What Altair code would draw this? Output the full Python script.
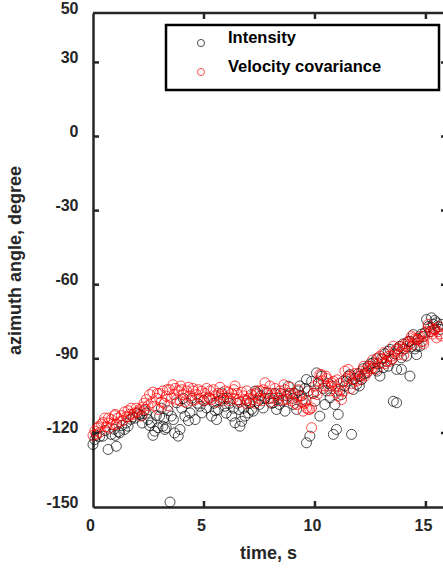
import altair as alt
import pandas as pd

series_names = ["Intensity", "Velocity covariance"]
series_colors = ["#000000", "#ff0000"]
y_ticks = [50, 30, 0, -30, -60, -90, -120, -150]
x_ticks = [0, 5, 10, 15]

int_t = [0.00, 0.08, 0.15, 0.30, 0.45, 0.55, 0.68, 0.82, 0.95, 1.05, 1.15, 1.20, 1.30, 1.42, 1.50, 1.58,
         1.70, 1.80, 1.90, 2.00, 2.10, 2.20, 2.30, 2.40, 2.48, 2.55, 2.63, 2.70, 2.78, 2.85, 2.93, 3.00,
         3.08, 3.15, 3.24, 3.30, 3.38, 3.47, 3.53, 3.62, 3.68, 3.77, 3.84, 3.92, 4.00, 4.07, 4.14, 4.25,
         4.37, 4.45, 4.60, 4.70, 4.82, 4.90, 5.00, 5.12, 5.25, 5.34, 5.45, 5.57, 5.64, 5.72, 5.80, 5.88,
         5.95, 6.05, 6.15, 6.25, 6.32, 6.40, 6.50, 6.62, 6.70, 6.78, 6.85, 6.93, 7.00, 7.07, 7.14, 7.22,
         7.30, 7.37, 7.45, 7.55, 7.67, 7.75, 7.85, 7.97, 8.05, 8.12, 8.20, 8.27, 8.35, 8.45, 8.55, 8.65,
         8.72, 8.80, 8.90, 9.02, 9.10, 9.17, 9.25, 9.32, 9.40, 9.47, 9.55, 9.62, 9.62, 9.70, 9.77, 9.85,
         9.93, 10.00, 10.07, 10.15, 10.22, 10.30, 10.38, 10.45, 10.52, 10.60, 10.68, 10.75, 10.83, 10.90,
         10.97, 11.05, 11.12, 11.20, 11.28, 11.35, 11.42, 11.50, 11.58, 11.65, 11.73, 11.80, 11.88, 11.95,
         12.03, 12.10, 12.18, 12.25, 12.33, 12.40, 12.50, 12.62, 12.70, 12.78, 12.85, 12.93, 13.00, 13.08,
         13.15, 13.23, 13.30, 13.38, 13.45, 13.53, 13.60, 13.68, 13.68, 13.75, 13.82, 13.90, 13.90, 13.97,
         14.05, 14.13, 14.20, 14.28, 14.28, 14.35, 14.43, 14.50, 14.58, 14.65, 14.73, 14.80, 14.88, 14.95,
         15.03, 15.10, 15.18, 15.25, 15.33, 15.40, 15.48, 15.55, 15.63, 15.70,
         4.30, 5.50, 6.00, 6.58, 7.50, 8.40, 9.00, 3.20, 2.22, 1.00, 12.00, 12.80, 13.30, 14.60, 15.40]
int_v = [-124.7, -122.7, -121.0, -121.5, -121.3, -119.0, -126.7, -120.6, -118.5, -125.4, -119.5, -120.0,
         -117.0, -118.6, -116.0, -117.3, -114.5, -113.5, -114.0, -112.0, -112.5, -113.0, -111.0, -112.0,
         -114.6, -117.0, -115.9, -121.0, -119.3, -113.0, -117.9, -113.2, -110.0, -117.3, -118.6, -117.9,
         -111.0, -148.0, -113.2, -114.6, -120.0, -107.8, -121.3, -118.6, -110.0, -106.0, -113.2, -108.0,
         -111.9, -106.0, -114.6, -108.0, -109.2, -111.9, -107.0, -109.9, -106.0, -113.2, -108.0, -114.6,
         -110.5, -107.0, -103.8, -106.0, -109.2, -106.0, -108.0, -113.2, -110.0, -115.9, -108.0, -117.3,
         -115.3, -110.0, -113.2, -107.0, -111.9, -108.0, -110.5, -111.2, -103.1, -103.8, -107.0, -105.0,
         -109.9, -106.0, -104.0, -106.0, -108.0, -107.8, -104.0, -110.5, -106.0, -104.0, -107.0, -111.2,
         -105.0, -101.1, -104.0, -108.5, -104.0, -110.5, -103.0, -101.0, -105.0, -106.5, -102.0, -98.4,
         -124.0, -103.0, -121.3, -99.1, -104.0, -107.2, -95.7, -100.0, -113.2, -97.0, -102.0, -108.5,
         -103.0, -100.0, -105.8, -101.0, -120.6, -108.5, -118.6, -112.5, -103.0, -104.5, -99.0, -101.0,
         -99.1, -97.0, -96.4, -120.6, -102.4, -98.0, -100.4, -96.0, -97.0, -98.4, -94.0, -96.0, -95.7,
         -93.0, -92.0, -91.6, -94.0, -90.0, -92.0, -97.0, -90.0, -93.6, -88.0, -91.0, -87.0, -86.2, -90.3,
         -107.2, -88.0, -94.3, -107.8, -86.0, -85.0, -89.6, -94.3, -84.0, -86.0, -88.9, -83.0, -82.9,
         -97.0, -85.0, -80.2, -86.0, -88.3, -82.0, -84.9, -80.0, -81.0, -79.5, -74.1, -77.0, -79.0, -73.4,
         -76.0, -78.0, -75.4, -77.0, -78.1, -76.0,
         -115.0, -111.0, -112.0, -110.5, -108.5, -108.5, -106.0, -114.0, -116.0, -121.0, -101.0, -95.0,
         -93.0, -85.0, -74.5]

vel_t = [0.00, 0.08, 0.15, 0.22, 0.30, 0.38, 0.45, 0.53, 0.60, 0.68, 0.75, 0.82, 0.90, 0.98, 1.05, 1.12,
         1.20, 1.28, 1.35, 1.42, 1.50, 1.58, 1.65, 1.72, 1.80, 1.88, 1.95, 2.03, 2.10, 2.18, 2.25, 2.33,
         2.40, 2.48, 2.55, 2.63, 2.70, 2.78, 2.85, 2.93, 3.00, 3.08, 3.15, 3.22, 3.30, 3.38, 3.45, 3.53,
         3.60, 3.65, 3.70, 3.77, 3.85, 3.92, 4.00, 4.07, 4.14, 4.22, 4.30, 4.37, 4.45, 4.52, 4.60, 4.67,
         4.75, 4.82, 4.90, 4.97, 5.04, 5.12, 5.20, 5.27, 5.34, 5.42, 5.50, 5.57, 5.64, 5.72, 5.80, 5.88,
         5.95, 6.03, 6.10, 6.18, 6.25, 6.32, 6.40, 6.48, 6.55, 6.62, 6.70, 6.78, 6.85, 6.93, 7.00, 7.07,
         7.14, 7.22, 7.30, 7.37, 7.45, 7.52, 7.60, 7.67, 7.75, 7.82, 7.90, 7.97, 8.05, 8.12, 8.20, 8.27,
         8.35, 8.42, 8.50, 8.57, 8.65, 8.72, 8.80, 8.88, 8.95, 9.02, 9.10, 9.17, 9.25, 9.32, 9.40, 9.47,
         9.55, 9.62, 9.70, 9.77, 9.85, 9.85, 9.93, 10.00, 10.07, 10.15, 10.22, 10.30, 10.38, 10.45, 10.52,
         10.60, 10.68, 10.75, 10.83, 10.90, 10.97, 11.05, 11.05, 11.12, 11.20, 11.28, 11.35, 11.42, 11.50,
         11.58, 11.65, 11.73, 11.80, 11.88, 11.95, 12.03, 12.10, 12.18, 12.25, 12.33, 12.40, 12.48, 12.55,
         12.62, 12.70, 12.78, 12.85, 12.93, 13.00, 13.08, 13.15, 13.23, 13.30, 13.38, 13.45, 13.53, 13.60,
         13.68, 13.75, 13.82, 13.90, 13.97, 14.05, 14.13, 14.20, 14.28, 14.35, 14.43, 14.50, 14.58, 14.65,
         14.73, 14.80, 14.88, 14.95, 15.03, 15.10, 15.18, 15.25, 15.33, 15.40, 15.48, 15.55, 15.63, 15.70,
         0.25, 0.70, 1.00, 1.60, 2.30, 2.90, 3.35, 3.95, 4.50, 5.15, 5.75, 6.35, 6.90, 7.40, 8.00, 8.60,
         9.20, 9.60, 10.10, 10.50, 11.00, 11.60, 12.20, 12.60, 13.10, 13.50, 14.00, 14.40, 14.90, 15.30,
         15.60]
vel_v = [-121.0, -119.3, -120.5, -118.0, -119.8, -116.5, -115.8, -114.0, -117.5, -116.0, -118.0, -114.6,
         -116.5, -113.0, -116.6, -114.0, -115.5, -113.0, -115.0, -111.5, -113.5, -111.0, -112.5, -110.0,
         -112.5, -111.9, -110.0, -111.5, -110.5, -113.2, -109.5, -110.5, -106.5, -109.0, -104.5, -107.8,
         -103.5, -109.2, -106.0, -110.5, -104.0, -107.5, -103.0, -108.0, -105.1, -109.0, -102.5, -106.0,
         -100.5, -104.5, -102.0, -106.5, -103.0, -107.0, -102.5, -104.5, -107.5, -103.0, -101.5, -105.0,
         -107.0, -103.0, -106.5, -104.5, -102.5, -106.0, -103.1, -107.0, -104.0, -102.0, -105.5, -103.0,
         -106.5, -102.5, -105.0, -107.5, -104.0, -101.5, -104.5, -107.0, -103.0, -105.5, -103.5, -107.0,
         -104.0, -106.0, -101.0, -104.0, -106.5, -107.5, -103.5, -105.0, -106.5, -103.0, -106.0, -107.5,
         -104.5, -106.5, -108.0, -104.5, -106.0, -103.0, -107.0, -102.5, -99.7, -103.5, -106.0, -101.0,
         -104.0, -106.0, -102.0, -104.5, -107.0, -103.0, -105.0, -106.5, -102.5, -106.5, -104.0, -101.5,
         -107.0, -104.0, -108.0, -105.5, -102.5, -105.0, -107.5, -111.2, -108.0, -110.0, -110.5, -110.5,
         -109.9, -117.9, -104.0, -101.1, -103.0, -99.0, -96.4, -96.4, -99.0, -101.0, -98.0, -101.1, -103.0,
         -99.7, -99.1, -101.0, -103.8, -102.4, -105.1, -100.0, -106.5, -103.1, -95.0, -98.0, -94.3, -97.0,
         -100.0, -98.4, -96.0, -99.0, -97.0, -98.4, -95.0, -96.4, -97.0, -94.0, -95.0, -93.0, -94.0, -93.6,
         -92.0, -94.3, -89.6, -88.9, -91.6, -90.0, -92.0, -91.0, -89.0, -91.0, -88.9, -84.9, -87.0, -86.0,
         -88.3, -85.0, -86.9, -86.0, -84.0, -85.0, -83.0, -84.0, -80.8, -84.2, -82.0, -82.2, -82.2, -81.0,
         -83.0, -82.9, -80.8, -79.0, -76.1, -77.4, -79.0, -78.0, -78.1, -81.5, -79.0, -80.0, -80.8,
         -117.5, -114.0, -112.5, -113.5, -108.0, -104.0, -102.5, -101.0, -102.0, -106.5, -106.0, -102.5,
         -108.0, -103.0, -107.5, -100.5, -108.5, -107.0, -104.5, -97.0, -98.5, -102.0, -93.0, -90.5,
         -87.5, -90.0, -88.5, -81.5, -84.0, -80.0, -77.0]

FONT = "Liberation Sans"
AX = "#262626"
W, H = 350, 494
X_DOM = [0, 15.77]
Y_DOM = [-150, 50]
HYPHEN = "datum.value < 0 ? '-' + abs(datum.value) : '' + datum.value"

df = pd.concat([
    pd.DataFrame({"t": int_t, "v": int_v, "series": series_names[0]}),
    pd.DataFrame({"t": vel_t, "v": vel_v, "series": series_names[1]}),
], ignore_index=True)

x_axis = alt.Axis(values=x_ticks, title="time, s", ticks=False, grid=False, domainColor=AX,
                  domainWidth=2.5, labelColor=AX, labelFont=FONT, labelFontWeight="bold",
                  labelFontSize=16, labelPadding=10, labelOffset=-3, labelFlush=False,
                  titleFont=FONT, titleFontWeight="bold", titleFontSize=18, titleColor=AX,
                  titleY=46, titleBaseline="middle")
y_axis = alt.Axis(values=y_ticks, title="azimuth angle, degree", ticks=False, grid=False,
                  domainColor=AX, domainWidth=2.5, labelColor=AX, labelFont=FONT,
                  labelFontWeight="bold", labelFontSize=16, labelPadding=15, labelOffset=-5,
                  labelExpr=HYPHEN,
                  titleFont=FONT, titleFontWeight="bold", titleFontSize=18, titleColor=AX,
                  titleX=-78, titleY=H / 2, titleBaseline="middle", titleAngle=270)

x_scale = alt.Scale(domain=X_DOM, nice=False, zero=False)
y_scale = alt.Scale(domain=Y_DOM, nice=False, zero=False)

points = alt.Chart(df).mark_point(shape="circle", filled=False, size=100, strokeWidth=1).encode(
    x=alt.X("t:Q", scale=x_scale, axis=x_axis),
    y=alt.Y("v:Q", scale=y_scale, axis=y_axis),
    color=alt.Color("series:N", scale=alt.Scale(domain=series_names, range=series_colors), legend=None),
    order=alt.Order("series:N"),
)

inner_y = pd.DataFrame({"v": [30, 0, -30, -60, -90, -120]})
inner_x = pd.DataFrame({"t": [5, 10, 15]})

ytick_l = alt.Chart(inner_y).mark_rule(color=AX, strokeWidth=2.5).encode(
    y=alt.Y("v:Q", scale=y_scale, axis=y_axis), x=alt.value(0), x2=alt.value(6))
ytick_r = alt.Chart(inner_y).mark_rule(color=AX, strokeWidth=2.5).encode(
    y=alt.Y("v:Q", scale=y_scale, axis=y_axis), x=alt.value(348), x2=alt.value(351))
xtick_b = alt.Chart(inner_x).mark_rule(color=AX, strokeWidth=2.5).encode(
    x=alt.X("t:Q", scale=x_scale, axis=x_axis), y=alt.value(H), y2=alt.value(H - 6))
xtick_t = alt.Chart(inner_x).mark_rule(color=AX, strokeWidth=2.5).encode(
    x=alt.X("t:Q", scale=x_scale, axis=x_axis), y=alt.value(0), y2=alt.value(6))
top_frame = alt.Chart(inner_x.head(1)).mark_rule(color=AX, strokeWidth=2.5).encode(
    x=alt.value(0), x2=alt.value(W), y=alt.value(0))

leg_df = pd.DataFrame({"label": series_names, "color": series_colors})
leg_box = alt.Chart(leg_df.head(1)).mark_rect(fill="white", stroke="black", strokeWidth=2.5).encode(
    x=alt.value(73), x2=alt.value(346), y=alt.value(12), y2=alt.value(77))
leg_layers = [leg_box]
for i, name in enumerate(series_names):
    row = leg_df[leg_df["label"] == name]
    leg_layers.append(alt.Chart(row).mark_point(shape="circle", filled=False, size=50, strokeWidth=1,
                                                 color=series_colors[i]).encode(
        x=alt.value(108), y=alt.value(30 + 29 * i)))
    leg_layers.append(alt.Chart(row).mark_text(font=FONT, fontWeight="bold", fontSize=16.5, align="left",
                                                baseline="middle", color="black").encode(
        x=alt.value(135), y=alt.value(25 + 29 * i), text="label:N"))

chart = alt.layer(points, ytick_l, ytick_r, xtick_b, xtick_t, top_frame, *leg_layers).properties(
    width=W, height=H,
    autosize=alt.AutoSizeParams(type="none"),
    padding={"left": 93, "top": 13, "right": 0, "bottom": 62},
    background="white",
).configure_view(stroke=None)

chart.save("out.html", embed_options={"renderer": "svg", "actions": False})
